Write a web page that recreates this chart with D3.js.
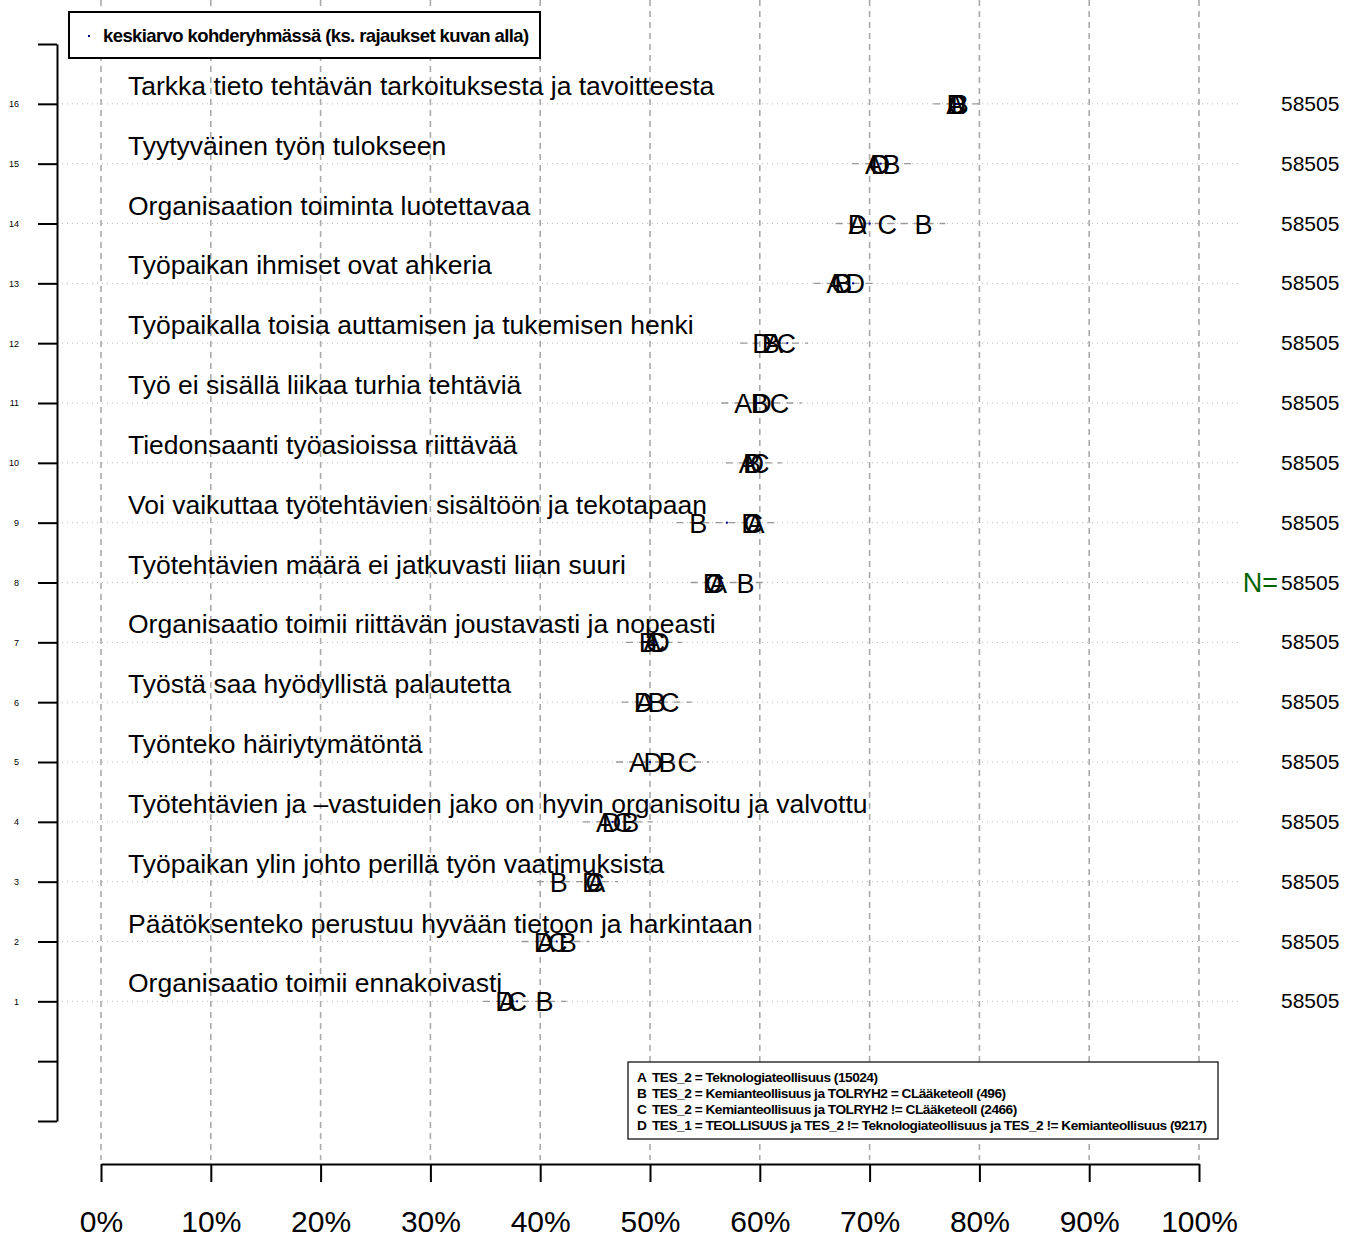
<!DOCTYPE html>
<html>
<head>
<meta charset="utf-8">
<script src="https://cdn.jsdelivr.net/npm/d3@7"></script>
<style>
  body { margin: 0; background: #fff; }
  svg { display: block; font-family: "Liberation Sans", Arial, Helvetica, sans-serif; }
</style>
</head>
<body>
<svg id="chart" width="1354" height="1238"></svg>
<script>
// rivit 1..16 alhaalta ylös
const labels = [
  "Organisaatio toimii ennakoivasti",
  "Päätöksenteko perustuu hyvään tietoon ja harkintaan",
  "Työpaikan ylin johto perillä työn vaatimuksista",
  "Työtehtävien ja –vastuiden jako on hyvin organisoitu ja valvottu",
  "Työnteko häiriytymätöntä",
  "Työstä saa hyödyllistä palautetta",
  "Organisaatio toimii riittävän joustavasti ja nopeasti",
  "Työtehtävien määrä ei jatkuvasti liian suuri",
  "Voi vaikuttaa työtehtävien sisältöön ja tekotapaan",
  "Tiedonsaanti työasioissa riittävää",
  "Työ ei sisällä liikaa turhia tehtäviä",
  "Työpaikalla toisia auttamisen ja tukemisen henki",
  "Työpaikan ihmiset ovat ahkeria",
  "Organisaation toiminta luotettavaa",
  "Tyytyväinen työn tulokseen",
  "Tarkka tieto tehtävän tarkoituksesta ja tavoitteesta"
];
const groupA = [37.0, 40.5, 45.1, 45.9, 48.9, 49.5, 50.2, 56.2, 59.6, 58.9, 58.5, 61.3, 66.9, 68.9, 70.4, 77.8];
const groupB = [40.4, 42.5, 41.7, 48.2, 51.6, 50.6, 49.8, 58.7, 54.4, 59.3, 60.0, 61.0, 67.6, 74.9, 72.0, 78.2];
const groupC = [37.9, 41.6, 45.0, 47.5, 53.4, 51.8, 50.5, 55.9, 59.4, 60.0, 61.8, 62.4, 67.4, 71.6, 70.8, 78.0];
const groupD = [36.8, 40.3, 44.7, 46.5, 50.3, 49.4, 50.9, 55.7, 59.2, 59.5, 60.2, 60.2, 68.7, 68.9, 71.0, 77.9];
const targetMean = [37.9, 41.5, 45.3, 46.6, 50.0, 50.0, 50.4, 56.5, 57.0, 59.3, 59.8, 62.5, 68.5, 70.0, 71.0, 78.0];
const nValues = [58505, 58505, 58505, 58505, 58505, 58505, 58505, 58505, 58505, 58505, 58505, 58505, 58505, 58505, 58505, 58505];
const groupKeys = ["A", "B", "C", "D"];
const groupLegend = [
  "TES_2 = Teknologiateollisuus (15024)",
  "TES_2 = Kemianteollisuus ja TOLRYH2 = CLääketeoll (496)",
  "TES_2 = Kemianteollisuus ja TOLRYH2 != CLääketeoll (2466)",
  "TES_1 = TEOLLISUUS ja  TES_2 != Teknologiateollisuus ja TES_2 != Kemianteollisuus (9217)"
];
const xTicks = [0, 10, 20, 30, 40, 50, 60, 70, 80, 90, 100];
const meanLegend = "keskiarvo kohderyhmässä (ks. rajaukset kuvan alla)";

const svg = d3.select("#chart");
const x = d3.scaleLinear().domain([0, 100]).range([101, 1199]);
const y = d3.scaleLinear().domain([-1, 17]).range([1121, 44]);
const groups = [groupA, groupB, groupC, groupD];

const rows = labels.map((lab, i) => ({
  row: i + 1,
  label: lab,
  vals: groups.map(g => g[i]),
  mean: targetMean[i],
  n: nValues[i]
}));

// pystysuorat katkoviivat
svg.append("g").selectAll("line").data(xTicks).join("line")
  .attr("x1", d => x(d)).attr("x2", d => x(d))
  .attr("y1", 0).attr("y2", 1160)
  .attr("stroke", "#aaaaaa").attr("stroke-width", 1.6)
  .attr("stroke-dasharray", "6,5");

// vaakasuorat pisteviivat
svg.append("g").selectAll("line").data(rows).join("line")
  .attr("x1", 57).attr("x2", 1240)
  .attr("y1", d => y(d.row)).attr("y2", d => y(d.row))
  .attr("stroke", "#bbbbbb").attr("stroke-width", 1)
  .attr("stroke-dasharray", "1,4");

// vaihteluväli harmaalla
svg.append("g").selectAll("line").data(rows).join("line")
  .attr("x1", d => x(d3.min(d.vals) - 2)).attr("x2", d => x(d3.max(d.vals) + 2))
  .attr("y1", d => y(d.row)).attr("y2", d => y(d.row))
  .attr("stroke", "#999999").attr("stroke-width", 1.3)
  .attr("stroke-dasharray", "7,6");

// väittämät
svg.append("g").selectAll("text").data(rows).join("text")
  .attr("x", 128).attr("y", d => y(d.row) - 9)
  .attr("font-size", 26.5).attr("fill", "#000")
  .text(d => d.label);

// ryhmäkirjaimet
const letterData = rows.flatMap(r => r.vals.map((v, k) => ({ row: r.row, v, key: groupKeys[k] })));
svg.append("g").selectAll("text").data(letterData).join("text")
  .attr("x", d => x(d.v)).attr("y", d => y(d.row) + 10)
  .attr("text-anchor", "middle").attr("font-size", 27)
  .text(d => d.key);

// kohderyhmän keskiarvo
svg.append("g").selectAll("rect").data(rows).join("rect")
  .attr("x", d => x(d.mean) - 1).attr("y", d => y(d.row) - 1)
  .attr("width", 2).attr("height", 2)
  .attr("fill", "#00008b");

// N-arvot
svg.append("g").selectAll("text").data(rows).join("text")
  .attr("x", 1281).attr("y", d => y(d.row) + 7)
  .attr("font-size", 21).text(d => d.n);
svg.append("text")
  .attr("x", 1278).attr("y", y(8) + 9)
  .attr("text-anchor", "end").attr("font-size", 27)
  .attr("fill", "#006400").text("N=");

// y-akseli
const yAxis = svg.append("g").attr("transform", "translate(57,0)")
  .call(d3.axisLeft(y).tickValues(d3.range(-1, 18))
    .tickFormat(d => (d >= 1 && d <= 16) ? d : "")
    .tickSize(19).tickSizeOuter(0).tickPadding(19));
yAxis.select(".domain").attr("stroke-width", 2);
yAxis.selectAll(".tick line").attr("stroke-width", 2);
yAxis.selectAll(".tick text").attr("font-size", 9).attr("font-family", "Liberation Sans, Arial");

// x-akseli
const xAxis = svg.append("g").attr("transform", "translate(0,1164)")
  .call(d3.axisBottom(x).tickValues(xTicks)
    .tickFormat(d => d + "%")
    .tickSize(18).tickSizeOuter(0).tickPadding(29));
xAxis.select(".domain").attr("stroke-width", 2);
xAxis.selectAll(".tick line").attr("stroke-width", 2);
xAxis.selectAll(".tick text").attr("font-size", 30).attr("font-family", "Liberation Sans, Arial");

// ylälegenda
svg.append("rect").attr("x", 69).attr("y", 12).attr("width", 471).attr("height", 46)
  .attr("fill", "#fff").attr("stroke", "#000").attr("stroke-width", 2);
svg.append("rect").attr("x", 88).attr("y", 35).attr("width", 2).attr("height", 2).attr("fill", "#00008b");
svg.append("text").attr("x", 103).attr("y", 42)
  .attr("font-size", 18.5).attr("font-weight", "bold").attr("letter-spacing", -0.6)
  .text(meanLegend);

// alalegenda
svg.append("rect").attr("x", 628).attr("y", 1062).attr("width", 590).attr("height", 77)
  .attr("fill", "#fff").attr("stroke", "#000").attr("stroke-width", 1.2);
const leg = svg.append("g").selectAll("g").data(groupLegend).join("g")
  .attr("transform", (d, i) => `translate(0,${1082 + i * 16})`);
leg.append("text").attr("x", 637).attr("font-size", 13.7).attr("font-weight", "bold")
  .attr("letter-spacing", -0.5).text((d, i) => groupKeys[i]);
leg.append("text").attr("x", 652).attr("font-size", 13.7).attr("font-weight", "bold")
  .attr("letter-spacing", -0.5).text(d => d);
</script>
</body>
</html>
